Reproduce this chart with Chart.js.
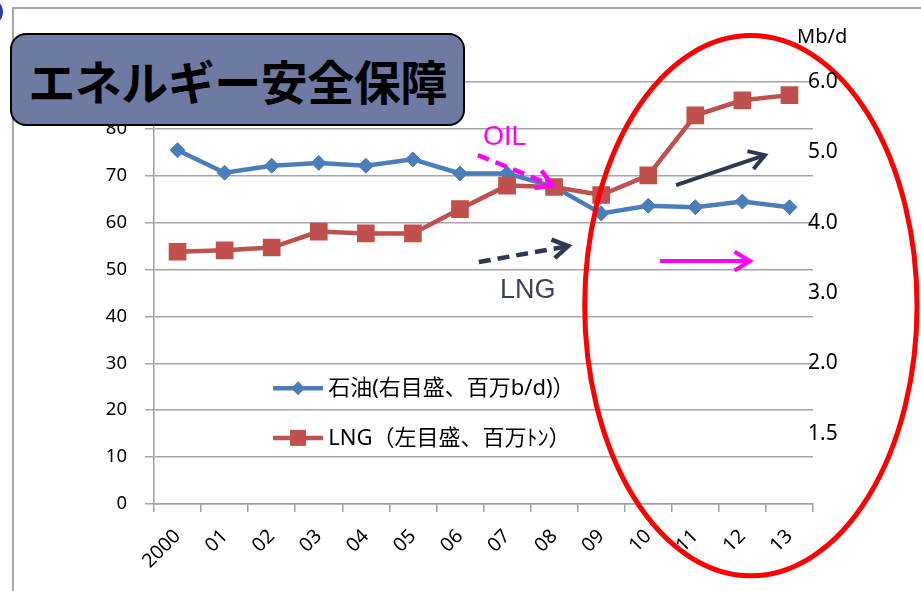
<!DOCTYPE html>
<html><head><meta charset="utf-8">
<script src="https://cdn.jsdelivr.net/npm/chart.js@4/dist/chart.umd.min.js"></script>
<style>
html,body{margin:0;padding:0;background:#fff;}
#wrap{position:relative;width:921px;height:591px;overflow:hidden;}
#frame{position:absolute;left:12px;top:7px;width:930px;height:600px;border-top:2px solid #a6a6a6;border-left:2px solid #a6a6a6;}
#dot{position:absolute;left:-7px;top:3px;width:10px;height:18px;border-radius:50%;background:#2c3cb0;}
canvas{position:absolute;left:0;top:0;}
#title{position:absolute;left:10px;top:33px;width:451px;height:89px;background:#6e7aa2;border:2px solid #000;border-radius:16px;
 font-family:"Noto Sans CJK JP",sans-serif;font-weight:bold;font-size:47px;color:#000;text-align:center;line-height:89px;letter-spacing:-0.5px;}
</style></head>
<body><div id="wrap"><div id="frame"></div><div id="dot"></div><canvas id="c" width="921" height="591"></canvas><div id="title">エネルギー安全保障</div></div>
<script>
const years = ['2000','01','02','03','04','05','06','07','08','09','10','11','12','13'];
const oilMbd = [5.03,4.71,4.81,4.85,4.81,4.90,4.70,4.70,4.51,4.13,4.24,4.22,4.30,4.22];
const lngMt = [53.8,54.1,54.7,58.1,57.7,57.7,62.9,67.9,67.6,65.9,70.1,82.9,86.1,87.2];
const leftTicks = [0,10,20,30,40,50,60,70,80,90];
const rightTicks = [1,2,3,4,5,6];
const rightLabels = ['1.5','2.0','3.0','4.0','5.0','6.0'];
const oilName = '石油(右目盛、百万b/d)）';
const lngName = 'LNG（左目盛、百万ﾄﾝ）';
const OIL_C = '#4a7ebb', LNG_C = '#c0504d';
const FONT = '"Noto Sans","Noto Sans CJK JP",sans-serif';

function arrow(ctx,x1,y1,x2,y2,color,w,dash){
  ctx.save();
  ctx.strokeStyle=color;ctx.lineWidth=w;ctx.lineCap='butt';
  ctx.setLineDash(dash||[]);
  ctx.beginPath();ctx.moveTo(x1,y1);ctx.lineTo(x2,y2);ctx.stroke();
  ctx.setLineDash([]);
  const a=Math.atan2(y2-y1,x2-x1), L=18, s=0.55;
  ctx.lineJoin='miter';
  ctx.beginPath();
  ctx.moveTo(x2-L*Math.cos(a-s),y2-L*Math.sin(a-s));
  ctx.lineTo(x2,y2);
  ctx.lineTo(x2-L*Math.cos(a+s),y2-L*Math.sin(a+s));
  ctx.stroke();
  ctx.restore();
}

const annot = {
  id:'annot',
  afterDraw(chart){
    const ctx=chart.ctx, xs=chart.scales.x, ys=chart.scales.y, y1=chart.scales.y1;
    const x0=xs.getPixelForValue(0), dx=xs.getPixelForValue(1)-x0;
    const px=i=>x0+i*dx, py=v=>ys.getPixelForValue(v);
    ctx.save();
    // legend
    ctx.textBaseline='middle';ctx.textAlign='left';
    ctx.font='22px '+FONT;
    [[oilName,OIL_C,24.7,'d'],[lngName,LNG_C,14.1,'s']].forEach(([t,c,v,m])=>{
      const y=py(v);
      ctx.strokeStyle=c;ctx.lineWidth=4.5;
      ctx.beginPath();ctx.moveTo(px(2.03),y);ctx.lineTo(px(3.09),y);ctx.stroke();
      ctx.fillStyle=c;
      const cx=px(2.56);
      if(m==='d'){ctx.beginPath();ctx.moveTo(cx-7,y);ctx.lineTo(cx,y-7);ctx.lineTo(cx+7,y);ctx.lineTo(cx,y+7);ctx.closePath();ctx.fill();}
      else ctx.fillRect(cx-8,y-8,16,16);
      ctx.fillStyle='#000';
      ctx.fillText(t,px(3.2),y+1);
    });
    // annotations
    ctx.font='27px "Liberation Sans",sans-serif';
    ctx.fillStyle='#ff00ff';
    ctx.fillText('OIL',px(6.49),py(78.1));
    ctx.fillStyle='#3c4259';
    ctx.fillText('LNG',px(6.85),py(45.6));
    arrow(ctx,px(6.38),py(74.4),px(7.96),py(68.0),'#ff00ff',4.5,[12,7]);
    arrow(ctx,px(6.40),py(51.6),px(8.30),py(55.0),'#2f3752',4.5,[12,7]);
    arrow(ctx,px(10.59),py(68.0),px(12.48),py(74.4),'#2f3752',4);
    arrow(ctx,px(10.25),py(51.8),px(12.16),py(51.8),'#ff00ff',4);
    // ellipse
    ctx.strokeStyle='#ff0000';ctx.lineWidth=5;
    ctx.beginPath();
    ctx.ellipse(px(12.18),py(42.3),3.53*dx,Math.abs(py(57.6)-py(0)),0,0,Math.PI*2);
    ctx.stroke();
    // right axis labels and unit
    ctx.fillStyle='#000';
    ctx.font='21px '+FONT;
    rightTicks.forEach((v,i)=>ctx.fillText(rightLabels[i], y1.left-5, y1.getPixelForValue(v)));
    ctx.font='20px '+FONT;
    ctx.fillText('Mb/d', y1.left-16, chart.chartArea.top-45);
    ctx.restore();
  }
};

new Chart(document.getElementById('c'),{
  type:'line',
  data:{labels:years,datasets:[
    {label:oilName,data:oilMbd,yAxisID:'y1',borderColor:OIL_C,backgroundColor:OIL_C,borderWidth:4.5,
     pointStyle:'rectRot',pointRadius:7.5,pointBorderWidth:1,pointBackgroundColor:OIL_C,pointBorderColor:OIL_C,order:1,tension:0},
    {label:lngName,data:lngMt,yAxisID:'y',borderColor:LNG_C,backgroundColor:LNG_C,borderWidth:4.5,
     pointStyle:'rect',pointRadius:12.5,pointBorderWidth:0,pointBackgroundColor:LNG_C,pointBorderColor:LNG_C,order:0,tension:0}
  ]},
  options:{
    responsive:false,animation:false,
    layout:{padding:{top:82,left:0,right:0,bottom:0}},
    plugins:{legend:{display:false},tooltip:{enabled:false}},
    scales:{
      x:{offset:true,
         grid:{offset:true,drawOnChartArea:false,color:'#a0a0a0',lineWidth:1.5,tickLength:8},
         border:{color:'#a0a0a0',width:1.5},
         ticks:{maxRotation:45,minRotation:45,autoSkip:false,font:{size:19.5,family:FONT},color:'#000',padding:13},
         afterFit(s){s.height=87;}},
      y:{min:0,max:90,afterBuildTicks(s){s.ticks=leftTicks.map(v=>({value:v}));},
         ticks:{font:{size:18.5,family:FONT},color:'#000',padding:18},
         grid:{color:'#a6a6a6',lineWidth:1.5,tickLength:9},
         border:{color:'#a0a0a0',width:1.5},
         afterFit(s){s.width=154;}},
      y1:{position:'right',min:0,max:6,
         ticks:{display:false,stepSize:1},
         grid:{display:false,drawTicks:false},border:{display:false},
         afterFit(s){s.width=108;}}
    }
  },
  plugins:[annot]
});
</script></body></html>
